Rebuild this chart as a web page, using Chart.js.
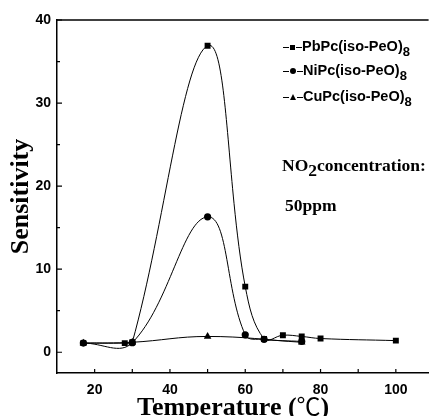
<!DOCTYPE html>
<html>
<head>
<meta charset="utf-8">
<script src="https://cdn.jsdelivr.net/npm/chart.js@4.4.0/dist/chart.umd.min.js"></script>
<style>
  body { margin: 0; background: #fff; }
  #wrap { position: relative; width: 433px; height: 416px; overflow: hidden; }
  .lg { position: absolute; left: 283px; font: bold 14.5px "Liberation Sans", Arial, sans-serif; line-height: 16px; white-space: nowrap; }
  .lg sub { font-size: 13px; vertical-align: -5px; line-height: 0; }
  .seg { display: inline-block; width: 6px; height: 1px; background: #000; vertical-align: middle; }
  .mk { display: inline-block; vertical-align: middle; margin: 0 1px; }
  .sq { width: 5px; height: 5px; background: #000; }
  .ci { width: 6px; height: 6px; background: #000; border-radius: 50%; }
  .tr { width: 0; height: 0; border-left: 3px solid transparent; border-right: 3px solid transparent; border-bottom: 6px solid #000; }
  .note { position: absolute; font: bold 17.5px "Liberation Serif", "Times New Roman", serif; line-height: 20px; white-space: nowrap; }
  .note sub { font-size: 17.5px; vertical-align: -5px; line-height: 0; }
  #xt { position: absolute; left: 137px; top: 391px; font: bold 26px "Liberation Serif", "Times New Roman", serif; line-height: 28px; white-space: nowrap; }
  #xt .c { font-family: "Noto Sans CJK SC", "DejaVu Sans", sans-serif; font-weight: normal; font-size: 24px; }
</style>
</head>
<body>
<div id="wrap">
  <canvas id="sensChart"></canvas>
  <div class="lg" style="top:38px"><span class="seg"></span><span class="mk sq"></span><span class="seg"></span>PbPc(iso-PeO)<sub>8</sub></div>
  <div class="lg" style="top:62px"><span class="seg"></span><span class="mk ci"></span><span class="seg"></span>NiPc(iso-PeO)<sub>8</sub></div>
  <div class="lg" style="top:88px"><span class="seg"></span><span class="mk tr"></span><span class="seg"></span>CuPc(iso-PeO)<sub>8</sub></div>
  <div class="note" style="left:282px; top:155px">NO<sub>2</sub>concentration:</div>
  <div class="note" style="left:285px; top:195px">50ppm</div>
  <div id="xt">Temperature (<span class="c">℃</span>)</div>
</div>
<script>
// temperatures (°C) and sensitivity
const pbTemps = [17, 28, 30, 50, 60, 65, 70, 75, 80, 100];
const pbVals  = [1.1, 1.1, 1.2, 36.9, 7.9, 1.6, 2.05, 1.9, 1.65, 1.4];
const niTemps = [17, 30, 50, 60, 65, 75];
const niVals  = [1.1, 1.15, 16.3, 2.1, 1.55, 1.3];
const cuTemps = [17, 30, 50, 75];
const cuVals  = [1.1, 1.2, 1.9, 1.2];

const xTicks = [20, 40, 60, 80, 100];
const xMinor = [30, 50, 70, 90];
const yTicks = [0, 10, 20, 30, 40];
const yMinor = [5, 15, 25, 35];

const toPts = (xs, ys) => xs.map((x, i) => ({ x: x, y: ys[i] }));

// inward tick marks + top frame line
const frame = {
    id: 'frame',
    afterDraw(chart) {
        const ctx = chart.ctx;
        const a = chart.chartArea;
        const xs = chart.scales.x, ys = chart.scales.y;
        ctx.save();
        ctx.strokeStyle = '#000';
        ctx.lineWidth = 1.5;
        ctx.beginPath();
        ctx.moveTo(a.left, a.top);
        ctx.lineTo(a.right, a.top);
        ctx.stroke();
        ctx.lineWidth = 1.2;
        ctx.beginPath();
        xTicks.concat(xMinor).forEach(v => {
            const p = xs.getPixelForValue(v);
            ctx.moveTo(p, a.bottom);
            ctx.lineTo(p, a.bottom - 4);
        });
        yTicks.forEach(v => {
            const p = ys.getPixelForValue(v);
            ctx.moveTo(a.left, p);
            ctx.lineTo(a.left + 5, p);
        });
        yMinor.forEach(v => {
            const p = ys.getPixelForValue(v);
            ctx.moveTo(a.left, p);
            ctx.lineTo(a.left + 3, p);
        });
        ctx.stroke();
        ctx.restore();
    }
};

const tickFont = { family: '"Liberation Sans", Arial, sans-serif', size: 14, weight: 'bold' };

function serie(label, xs, ys, style, r) {
    return {
        label: label,
        data: toPts(xs, ys),
        borderColor: '#000',
        backgroundColor: '#000',
        borderWidth: 1,
        pointStyle: style,
        pointRadius: r,
        pointBorderWidth: 0,
        tension: 0.4,
        fill: false
    };
}

new Chart(document.getElementById('sensChart').getContext('2d'), {
    type: 'line',
    data: {
        datasets: [
            serie('PbPc(iso-PeO)8', pbTemps, pbVals, 'rect', 4.2),
            serie('NiPc(iso-PeO)8', niTemps, niVals, 'circle', 3.6),
            serie('CuPc(iso-PeO)8', cuTemps, cuVals, 'triangle', 4.4)
        ]
    },
    options: {
        responsive: true,
        maintainAspectRatio: false,
        animation: false,
        layout: { padding: { top: 20, right: 0, left: 0, bottom: 0 } },
        plugins: {
            legend: { display: false },
            tooltip: { enabled: false }
        },
        scales: {
            x: {
                type: 'linear',
                min: 10,
                max: 108.7,
                grid: { display: false, drawTicks: false },
                border: { display: true, color: '#000', width: 1.5 },
                afterBuildTicks: s => { s.ticks = xTicks.map(v => ({ value: v })); },
                afterFit: s => { s.height = 43; },
                ticks: { color: '#000', font: tickFont, padding: 9, maxRotation: 0 }
            },
            y: {
                min: -2.5,
                max: 40,
                grid: { display: false, drawTicks: false },
                border: { display: true, color: '#000', width: 1.5 },
                afterBuildTicks: s => { s.ticks = yTicks.map(v => ({ value: v })); },
                afterFit: s => { s.width = 57; },
                ticks: { color: '#000', font: tickFont, padding: 6 },
                title: {
                    display: true,
                    text: 'Sensitivity',
                    color: '#000',
                    font: { family: '"Liberation Serif", "Times New Roman", serif', size: 26, weight: 'bold', lineHeight: 1 },
                    padding: { top: 8, bottom: 0 }
                }
            }
        }
    },
    plugins: [frame]
});
</script>
</body>
</html>
